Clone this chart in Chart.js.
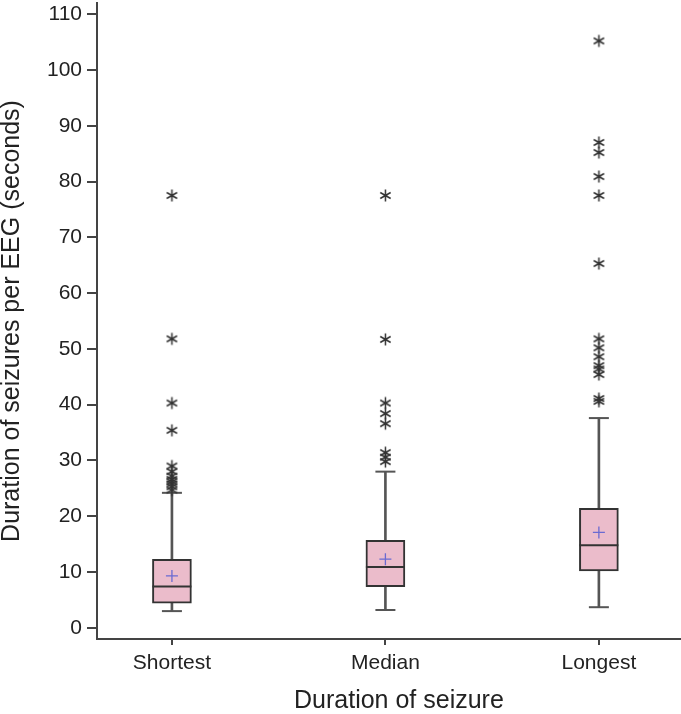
<!DOCTYPE html>
<html>
<head>
<meta charset="utf-8">
<script src="https://cdn.jsdelivr.net/npm/chart.js@4/dist/chart.umd.min.js"></script>
<style>
  body { margin: 0; background: #fff; }
</style>
</head>
<body>
<canvas id="chart" width="681" height="714"></canvas>
<script>
// box plot values
const categories = ['Shortest', 'Median', 'Longest'];
const q1 = [4.4, 7.4, 10.2];
const q3 = [12.3, 15.7, 21.4];
const medians = [7.4, 10.9, 14.8];
const means = [9.3, 12.3, 17.1];
const whiskerLow = [3.0, 3.2, 3.7];
const whiskerHigh = [24.2, 28.0, 37.6];
const outliersShortest = [77.5, 51.8, 40.3, 35.4, 29.0, 28.0, 27.2, 26.6, 26.2, 25.8, 25.3, 24.7];
const outliersMedian = [77.5, 51.7, 40.3, 38.4, 36.6, 31.4, 30.6, 29.8];
const outliersLongest = [105.2, 87.0, 85.2, 80.9, 77.5, 65.3, 51.8, 50.2, 48.6, 47.0, 46.4, 45.4, 41.1, 40.6];
const yTicks = [0, 10, 20, 30, 40, 50, 60, 70, 80, 90, 100, 110];

const FONT = "'Liberation Sans', Arial, Helvetica, sans-serif";

// asterisk marker like the one in the figure
function makeStar() {
  const c = document.createElement('canvas');
  c.width = 15; c.height = 15;
  const g = c.getContext('2d');
  g.strokeStyle = '#333';
  g.lineWidth = 1.5;
  g.beginPath();
  [90, 30, 150].forEach(a => {
    const r = a * Math.PI / 180;
    g.moveTo(7.5 - Math.cos(r) * 6, 7.5 - Math.sin(r) * 6);
    g.lineTo(7.5 + Math.cos(r) * 6, 7.5 + Math.sin(r) * 6);
  });
  g.stroke();
  return c;
}
const star = makeStar();

const outlierPoints = [];
[outliersShortest, outliersMedian, outliersLongest].forEach((list, i) => {
  list.forEach(v => outlierPoints.push({x: i + 1, y: v}));
});

new Chart('chart', {
  type: 'bar',
  data: {
    datasets: [
      {
        type: 'scatter',
        data: outlierPoints,
        pointStyle: star,
        order: 0
      },
      {
        type: 'scatter',
        data: means.map((v, i) => ({x: i + 1, y: v})),
        pointStyle: 'cross',
        radius: 6,
        borderColor: '#6a6ad2',
        borderWidth: 1.3,
        order: 1
      },
      {
        type: 'scatter',
        data: medians.map((v, i) => ({x: i + 1, y: v})),
        pointStyle: 'line',
        radius: 19.5,
        borderColor: '#333',
        borderWidth: 2,
        order: 2
      },
      {
        type: 'scatter',
        data: whiskerLow.map((v, i) => ({x: i + 1, y: v}))
          .concat(whiskerHigh.map((v, i) => ({x: i + 1, y: v}))),
        pointStyle: 'line',
        radius: 10,
        borderColor: '#555',
        borderWidth: 2,
        order: 3
      },
      {
        data: q1.map((v, i) => ({x: i + 1, y: [v, q3[i]]})),
        backgroundColor: '#ebbccb',
        borderColor: '#333',
        borderWidth: 2,
        borderSkipped: false,
        barThickness: 39,
        grouped: false,
        order: 4
      },
      {
        data: whiskerLow.map((v, i) => ({x: i + 1, y: [v, whiskerHigh[i]]})),
        backgroundColor: '#555',
        borderWidth: 0,
        barThickness: 2,
        grouped: false,
        order: 5
      }
    ]
  },
  options: {
    responsive: false,
    animation: false,
    events: [],
    layout: { autoPadding: false, padding: { top: 3, right: 1, left: 0, bottom: 0 } },
    plugins: {
      legend: { display: false },
      tooltip: { enabled: false }
    },
    scales: {
      x: {
        type: 'linear',
        min: 0.649,
        max: 3.38,
        offset: false,
        afterBuildTicks: scale => { scale.ticks = [1, 2, 3].map(v => ({value: v})); },
        afterFit: scale => {
          scale.height = 75;
          scale.paddingLeft = 0;
          scale.paddingRight = 0;
        },
        grid: { drawOnChartArea: false, drawTicks: true, tickLength: 6, color: '#444', lineWidth: 2, offset: false },
        border: { display: true, color: '#444', width: 2 },
        ticks: {
          color: '#222',
          padding: 6,
          font: { family: FONT, size: 21 },
          callback: v => categories[Math.round(v) - 1]
        },
        title: {
          display: true,
          text: '   Duration of seizure',
          color: '#222',
          padding: { top: 0, bottom: 0 },
          font: { family: FONT, size: 25, lineHeight: 1 }
        }
      },
      y: {
        min: -2,
        max: 112,
        afterBuildTicks: scale => { scale.ticks = yTicks.map(v => ({value: v})); },
        afterFit: scale => {
          scale.width = 97;
          scale.paddingTop = 0;
          scale.paddingBottom = 0;
        },
        grid: { drawOnChartArea: false, drawTicks: true, tickLength: 10, color: '#444', lineWidth: 2 },
        border: { display: true, color: '#444', width: 2 },
        ticks: {
          color: '#222',
          padding: 5,
          font: { family: FONT, size: 21 }
        },
        title: {
          display: true,
          text: 'Duration of seizures per EEG (seconds)',
          color: '#222',
          padding: 0,
          font: { family: FONT, size: 25, lineHeight: 1 }
        }
      }
    }
  }
});
</script>
</body>
</html>
